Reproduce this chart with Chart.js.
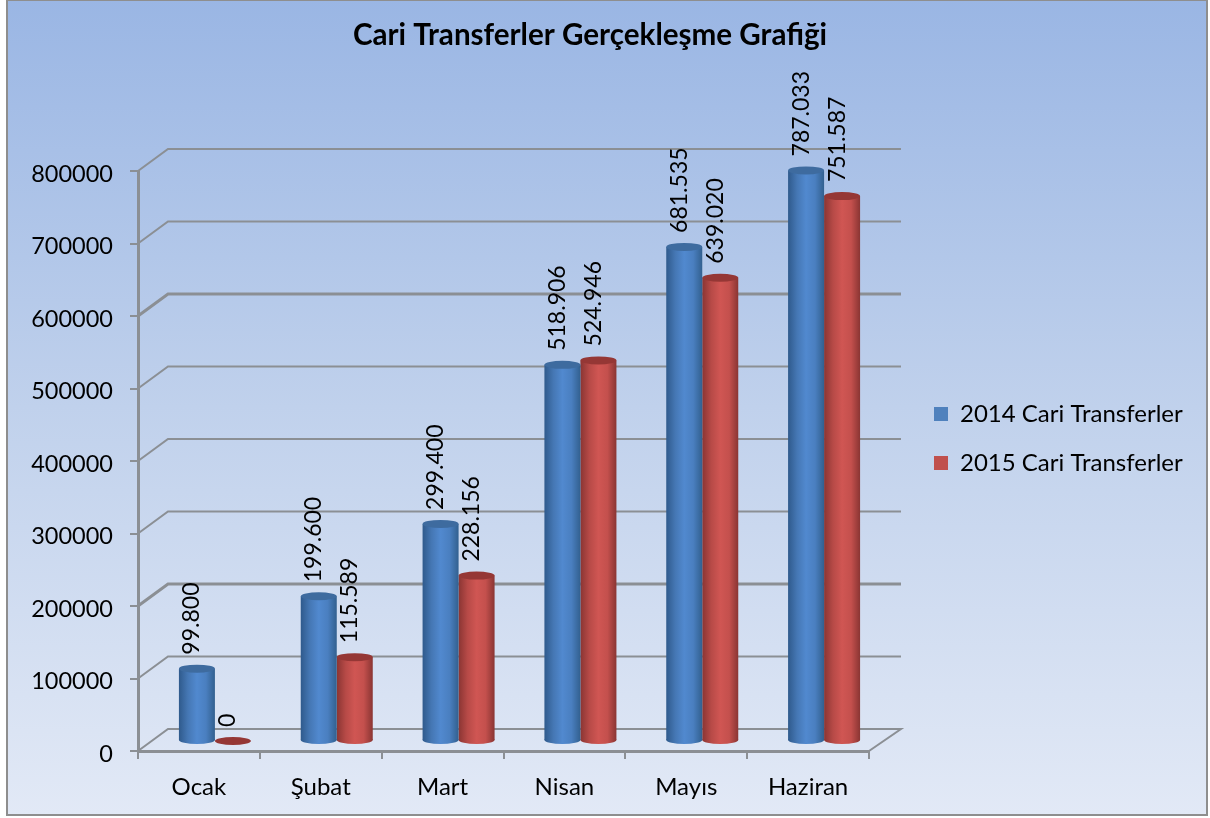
<!DOCTYPE html>
<html>
<head>
<meta charset="utf-8">
<title>Cari Transferler</title>
<script src="https://cdn.jsdelivr.net/npm/chart.js@4"></script>
<style>
body { margin: 0; background: #fff; }
canvas { display: block; }
</style>
</head>
<body>
<canvas id="mycanvas" width="1210" height="818"></canvas>
<script>
var months = ['Ocak', 'Şubat', 'Mart', 'Nisan', 'Mayıs', 'Haziran'];
var transfers2014 = [99800, 199600, 299400, 518906, 681535, 787033];
var transfers2015 = [0, 115589, 228156, 524946, 639020, 751587];
var seriesNames = ['2014 Cari Transferler', '2015 Cari Transferler'];
var yTicks = [0, 100000, 200000, 300000, 400000, 500000, 600000, 700000, 800000];

var fontName = 'Lato, "Open Sans", sans-serif';
var axisGray = '#8b8f94';
var depthX = 30, depthY = 22;      // back wall offset
var barShiftX = 16, barShiftY = 10; // bars stand in the middle of the floor

var barColors = [
    { flat: '#4f81bd', cap: '#3e6b9f', stops: ['#2f5a8c', '#4577b4', '#5189cf', '#4a7fc0', '#32608f'] },
    { flat: '#c0504d', cap: '#953735', stops: ['#8a3533', '#b74a47', '#d05653', '#c4504d', '#8a3533'] }
];

function barFill(c) {
    var set = barColors[c.datasetIndex];
    if (c.type !== 'data' || !c.chart.chartArea) return set.flat;
    var x = c.chart.scales.x;
    var center = x.getPixelForValue(c.dataIndex) + (c.datasetIndex === 0 ? -18 : 18);
    var g = c.chart.ctx.createLinearGradient(center - 18, 0, center + 18, 0);
    set.stops.forEach(function(s, i) { g.addColorStop(i / 4, s); });
    return g;
}

function ellipse(ctx, x, y, rx, ry, fill) {
    ctx.beginPath();
    ctx.ellipse(x, y, rx, ry, 0, 0, Math.PI * 2);
    ctx.fillStyle = fill;
    ctx.fill();
}

var wallPlugin = {
    id: 'wall',
    beforeDraw: function(chart) {
        var ctx = chart.ctx;
        var g = ctx.createLinearGradient(0, 0, 0, 815);
        g.addColorStop(0, '#9ab6e4');
        g.addColorStop(0.5, '#c0d1ec');
        g.addColorStop(1, '#e2e9f6');
        ctx.save();
        ctx.fillStyle = g;
        ctx.fillRect(7, 0, 1200, 815);
        ctx.strokeStyle = '#8e8e8e';
        ctx.lineWidth = 2;
        ctx.strokeRect(7, 0, 1200, 815);
        ctx.restore();
    },
    afterLayout: function(chart) {
        // title and legend sit where the original has them, not where the layout puts them
        chart.titleBlock.left = 0;
        chart.titleBlock.right = 1180;
        var lg = chart.legend;
        var w = lg.width, h = lg.height;
        lg.left = 909; lg.right = 909 + w;
        lg.top = 377; lg.bottom = 377 + h;
    },
    beforeDatasetsDraw: function(chart) {
        var ctx = chart.ctx, y = chart.scales.y, a = chart.chartArea;
        ctx.save();
        ctx.strokeStyle = axisGray;
        yTicks.forEach(function(v) {
            var py = y.getPixelForValue(v);
            ctx.lineWidth = (v === 200000 || v === 600000) ? 3 : 2;
            ctx.beginPath();
            ctx.moveTo(a.left, py);
            ctx.lineTo(a.left + depthX, py - depthY);
            ctx.lineTo(a.right + depthX + 2, py - depthY);
            if (v === 0) ctx.lineTo(a.right, py);
            ctx.stroke();
        });
        ctx.restore();
    },
    beforeDatasetDraw: function(chart, args) {
        var ctx = chart.ctx;
        ctx.save();
        ctx.translate(barShiftX, -barShiftY);
        var set = barColors[args.index];
        args.meta.data.forEach(function(bar, i) {
            var g = ctx.createLinearGradient(bar.x - 18, 0, bar.x + 18, 0);
            set.stops.forEach(function(s, k) { g.addColorStop(k / 4, s); });
            if (chart.data.datasets[args.index].data[i] > 0) ellipse(ctx, bar.x, bar.base, 18, 4, g);
        });
    },
    afterDatasetDraw: function(chart, args) {
        var ctx = chart.ctx;
        var set = barColors[args.index];
        args.meta.data.forEach(function(bar) {
            ellipse(ctx, bar.x, bar.y, 18, 4, set.cap);
        });
        ctx.restore();
    },
    afterDatasetsDraw: function(chart) {
        var ctx = chart.ctx;
        ctx.save();
        ctx.fillStyle = '#000';
        ctx.font = '23px ' + fontName;
        ctx.textAlign = 'left';
        ctx.textBaseline = 'middle';
        chart.data.datasets.forEach(function(ds, d) {
            chart.getDatasetMeta(d).data.forEach(function(bar, i) {
                var text = String(ds.data[i]).replace(/\B(?=(\d{3})+$)/g, '.');
                ctx.save();
                ctx.translate(bar.x + barShiftX - 5, bar.y - barShiftY - 14);
                ctx.rotate(-Math.PI / 2);
                ctx.fillText(text, 0, 0);
                ctx.restore();
            });
        });
        ctx.restore();
    }
};

var chartdata = {
    labels: months,
    datasets: [
        { label: seriesNames[0], data: transfers2014, backgroundColor: barFill, clip: false },
        { label: seriesNames[1], data: transfers2015, backgroundColor: barFill, clip: false }
    ]
};

var barGraph = new Chart(document.getElementById('mycanvas'), {
    type: 'bar',
    data: chartdata,
    plugins: [wallPlugin],
    options: {
        responsive: false,
        animation: false,
        layout: { padding: { left: 0, right: 341, top: 0, bottom: 0 } },
        datasets: { bar: { barPercentage: 1, categoryPercentage: 0.591, borderWidth: 0 } },
        plugins: {
            title: {
                display: true,
                text: 'Cari Transferler Gerçekleşme Grafiği',
                color: '#000',
                font: { family: fontName, size: 29.6, weight: 'bold', lineHeight: 1.2 },
                padding: { top: 17.5, bottom: 118 }
            },
            legend: {
                position: 'chartArea',
                align: 'start',
                labels: {
                    color: '#000',
                    font: { family: fontName, size: 24 },
                    boxWidth: 14,
                    boxHeight: 14,
                    padding: 25,
                    generateLabels: function(chart) {
                        var items = Chart.defaults.plugins.legend.labels.generateLabels(chart);
                        items.forEach(function(item, i) {
                            item.fillStyle = barColors[i].flat;
                            item.lineWidth = 0;
                        });
                        return items;
                    }
                }
            },
            tooltip: { enabled: false }
        },
        scales: {
            x: {
                afterFit: function(s) { s.height = 67; },
                border: { color: axisGray, width: 3 },
                grid: { drawOnChartArea: false, color: axisGray, lineWidth: 2, tickLength: 8 },
                ticks: { color: '#000', font: { family: fontName, size: 24 }, padding: 14, maxRotation: 0 }
            },
            y: {
                min: 0,
                max: 800000,
                afterFit: function(s) { s.width = 138; },
                border: { color: axisGray, width: 3 },
                grid: { drawOnChartArea: false, color: axisGray, lineWidth: 2, tickLength: 8 },
                ticks: {
                    stepSize: 100000,
                    color: '#000',
                    font: { family: fontName, size: 23.5 },
                    padding: 17,
                    labelOffset: 3,
                    callback: function(v) { return String(v); }
                }
            }
        }
    }
});
</script>
</body>
</html>
